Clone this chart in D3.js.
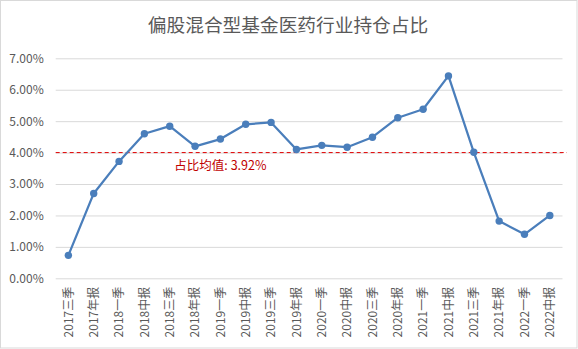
<!DOCTYPE html>
<html><head><meta charset="utf-8">
<script src="https://cdn.jsdelivr.net/npm/d3@7"></script>
<style>
html,body{margin:0;padding:0;background:#fff;}
svg{display:block;}
text{font-family:"Noto Sans CJK SC","Noto Sans",sans-serif;}
</style></head>
<body>
<svg id="chart" width="578" height="349"></svg>
<script>
const title = "偏股混合型基金医药行业持仓占比";
const categories = ["2017三季","2017年报","2018一季","2018中报","2018三季","2018年报","2019一季","2019中报","2019三季","2019年报","2020一季","2020中报","2020三季","2020年报","2021一季","2021中报","2021三季","2021年报","2022一季","2022中报"];
const values = [0.73,2.70,3.72,4.60,4.84,4.20,4.43,4.90,4.96,4.10,4.23,4.17,4.49,5.11,5.38,6.44,4.01,1.82,1.40,2.00];
const yTicks = [0,1,2,3,4,5,6,7];
const meanLabel = "占比均值: 3.92%";
const refLineValue = 4.0;

const svg = d3.select("#chart");
const W = 578, H = 349;
const m = {left:55.7, right:15.5, top:58.3, bottom:70.7};

svg.append("rect").attr("x",0.5).attr("y",0.5).attr("width",W-1.5).attr("height",H-1.5)
  .attr("fill","#fff").attr("stroke","#d9d9d9");

svg.append("text").attr("x",288).attr("y",32).attr("text-anchor","middle")
  .attr("font-size",18.7).attr("fill","#595959").text(title);

const x = d3.scaleBand().domain(categories).range([m.left, W-m.right]);
const y = d3.scaleLinear().domain([0,7]).range([H-m.bottom, m.top]);

// gridlines
const gy = svg.append("g").attr("transform",`translate(${m.left},0)`)
  .call(d3.axisLeft(y).tickValues(yTicks).tickSize(-(W-m.right-m.left)).tickFormat(d=>d.toFixed(2)+"%").tickPadding(12));
gy.select(".domain").remove();
gy.selectAll(".tick line").attr("stroke","#d9d9d9").attr("stroke-width",1);
gy.selectAll(".tick text").attr("fill","#595959").attr("font-size",12).attr("font-family","'Noto Sans','Noto Sans CJK SC',sans-serif");

// x axis labels
const gx = svg.append("g").attr("transform",`translate(0,${H-m.bottom})`)
  .call(d3.axisBottom(x).tickSize(0).tickPadding(0));
gx.select(".domain").remove();
gx.selectAll(".tick text")
  .attr("transform","rotate(-90)")
  .attr("text-anchor","end")
  .attr("dy","0.35em")
  .attr("x",-8.5).attr("y",0)
  .attr("fill","#595959").attr("font-size",12);

// reference line
svg.append("line").attr("x1",m.left).attr("x2",W-m.right+4.5)
  .attr("y1",y(refLineValue)).attr("y2",y(refLineValue))
  .attr("stroke","#e00000").attr("stroke-width",1).attr("stroke-dasharray","4,3");

svg.append("text").attr("x",x(categories[6])+x.bandwidth()/2).attr("y",y(refLineValue)+17)
  .attr("text-anchor","middle").attr("font-size",12.5).attr("fill","#c00000").text(meanLabel);

const cx = d => x(d)+x.bandwidth()/2;
const line = d3.line().x((d,i)=>cx(categories[i])).y(d=>y(d));
svg.append("path").datum(values).attr("d",line).attr("fill","none")
  .attr("stroke","#4a7ebb").attr("stroke-width",2.25).attr("stroke-linejoin","round");
svg.selectAll("circle.pt").data(values).enter().append("circle").attr("class","pt")
  .attr("cx",(d,i)=>cx(categories[i])).attr("cy",d=>y(d)).attr("r",3.7).attr("fill","#4a7ebb");
</script>
</body></html>
